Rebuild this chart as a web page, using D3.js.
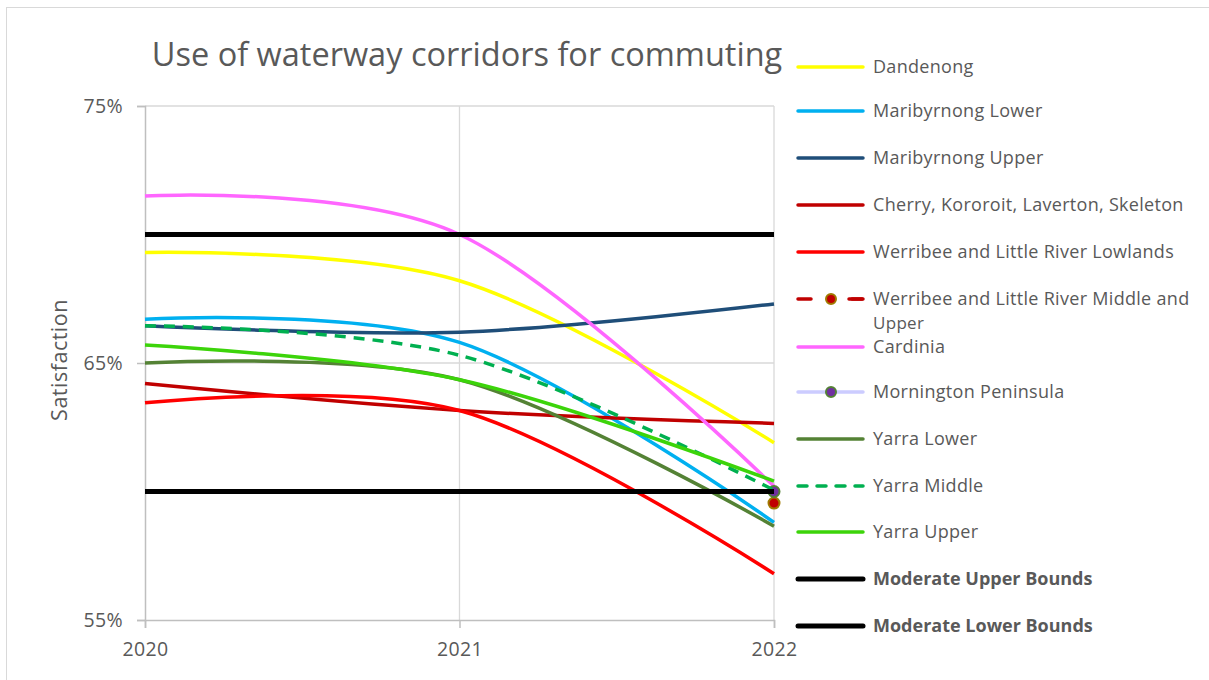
<!DOCTYPE html>
<html>
<head>
<meta charset="utf-8">
<title>Use of waterway corridors for commuting</title>
<script src="https://cdn.jsdelivr.net/npm/d3@7"></script>
<style>
  body { margin: 0; background: #fff; }
  text { font-family: "Open Sans", "Noto Sans", sans-serif; fill: #595959; }
</style>
</head>
<body>
<svg id="chart" width="1209" height="680"></svg>
<script>
// data
var years = [2020, 2021, 2022]
var yTicks = [55, 65, 75]

var names = [
  'Dandenong', 'Maribyrnong Lower', 'Maribyrnong Upper',
  'Cherry, Kororoit, Laverton, Skeleton', 'Werribee and Little River Lowlands',
  'Werribee and Little River Middle and Upper', 'Cardinia', 'Mornington Peninsula',
  'Yarra Lower', 'Yarra Middle', 'Yarra Upper',
  'Moderate Upper Bounds', 'Moderate Lower Bounds'
]
var dandenong    = [69.3, 68.2, 61.9]
var maribLower   = [66.7, 65.8, 58.8]
var maribUpper   = [66.45, 66.2, 67.3]
var cherry       = [64.2, 63.15, 62.65]
var werribeeLow  = [63.45, 63.15, 56.8]
var werribeeMid  = [null, null, 59.55]
var cardinia     = [71.5, 70.0, 60.2]
var mornington   = [null, null, 60.0]
var yarraLower   = [65.0, 64.35, 58.65]
var yarraMiddle  = [66.45, 65.3, 60.05]
var yarraUpper   = [65.7, 64.35, 60.4]
var upperBound   = [70, 70, 70]
var lowerBound   = [60, 60, 60]

var values = [dandenong, maribLower, maribUpper, cherry, werribeeLow, werribeeMid,
  cardinia, mornington, yarraLower, yarraMiddle, yarraUpper, upperBound, lowerBound]
var colors = ['#FFFF00', '#00B0F0', '#1F4E79', '#C00000', '#FF0000', '#C00000',
  '#FF66FF', '#CCCCFF', '#548235', '#00B050', '#3CD40A', '#000000', '#000000']

var series = names.map(function (n, i) {
  return { name: n, values: values[i], color: colors[i],
    dash: (i == 5 || i == 9) ? '11,8' : null,
    width: i >= 11 ? 5 : 3.5,
    bold: i >= 11,
    marker: i == 5 ? { fill: '#C00000', stroke: '#A07A00' } : i == 7 ? { fill: '#7030A0', stroke: '#548235' } : null }
})

var svg = d3.select('#chart')

svg.append('rect')
  .attr('x', 6.5).attr('y', 7.5).attr('width', 1230).attr('height', 700)
  .attr('fill', 'none').attr('stroke', '#D9D9D9')

var x = d3.scaleLinear().domain([2020, 2022]).range([145, 774])
var y = d3.scaleLinear().domain([55, 75]).range([620, 106])

// gridlines
svg.append('g').selectAll('line').data(yTicks.slice(1)).enter().append('line')
  .attr('x1', x(2020)).attr('x2', x(2022))
  .attr('y1', function (d) { return y(d) }).attr('y2', function (d) { return y(d) })
  .attr('stroke', '#D9D9D9').attr('stroke-width', 1.3)
svg.append('g').selectAll('line').data(years.slice(1)).enter().append('line')
  .attr('x1', function (d) { return x(d) }).attr('x2', function (d) { return x(d) })
  .attr('y1', y(55)).attr('y2', y(75))
  .attr('stroke', '#D9D9D9').attr('stroke-width', 1.3)

// axes
var yAxis = svg.append('g').attr('transform', 'translate(' + x(2020) + ',0)')
  .call(d3.axisLeft(y).tickValues(yTicks).tickSize(8).tickPadding(14).tickFormat(function (d) { return d + '%' }))
var xAxis = svg.append('g').attr('transform', 'translate(0,' + y(55) + ')')
  .call(d3.axisBottom(x).tickValues(years).tickSize(8).tickPadding(14).tickFormat(d3.format('d')))
;[yAxis, xAxis].forEach(function (a) {
  a.select('.domain').attr('stroke', '#BFBFBF').attr('stroke-width', 1.5)
  a.selectAll('.tick line').attr('stroke', '#BFBFBF').attr('stroke-width', 1.5)
  a.selectAll('.tick text').style('font-size', '19.5px').style('letter-spacing', '0.4px').attr('fill', '#595959')
})

// lines
var line = d3.line()
  .defined(function (d) { return d != null })
  .x(function (d, i) { return x(years[i]) })
  .y(function (d) { return y(d) })
  .curve(d3.curveCardinal.tension(0))

var lines = svg.append('g')
series.forEach(function (s) {
  lines.append('path')
    .attr('d', line(s.values))
    .attr('fill', 'none')
    .attr('stroke', s.color)
    .attr('stroke-width', s.width)
    .attr('stroke-dasharray', s.dash)
  if (s.marker) {
    s.values.forEach(function (v, i) {
      if (v == null) return
      lines.append('circle')
        .attr('cx', x(years[i])).attr('cy', y(v)).attr('r', 5.5)
        .attr('fill', s.marker.fill).attr('stroke', s.marker.stroke).attr('stroke-width', 2)
    })
  }
})

// title + axis label
svg.append('text').attr('x', 467).attr('y', 66).attr('text-anchor', 'middle')
  .style('font-size', '32.5px').text('Use of waterway corridors for commuting')
svg.append('text').attr('transform', 'translate(67,360) rotate(-90)').attr('text-anchor', 'middle')
  .style('font-size', '21.5px').style('letter-spacing', '0.5px').text('Satisfaction')

// legend
var rowY = [67, 111, 158, 205, 252, 299, 347, 392, 439, 486, 532, 579, 626]
var leg = svg.append('g')
series.forEach(function (s, i) {
  var g = leg.append('g').attr('transform', 'translate(0,' + rowY[i] + ')')
  g.append('line').attr('x1', 798).attr('x2', 863).attr('y1', 0).attr('y2', 0)
    .attr('stroke', s.color).attr('stroke-width', s.width)
    .attr('stroke-linecap', 'round')
    .attr('stroke-dasharray', s.dash ? (i == 5 ? '13,38' : '9,10') : null)
  if (i == 5) {
    g.append('line').attr('x1', 852).attr('x2', 863).attr('y1', 0).attr('y2', 0)
      .attr('stroke', s.color).attr('stroke-width', s.width).attr('stroke-linecap', 'round')
  }
  if (s.marker) {
    g.append('circle').attr('cx', 831).attr('cy', 0).attr('r', 5)
      .attr('fill', s.marker.fill).attr('stroke', s.marker.stroke).attr('stroke-width', 2)
  }
  var t = g.append('text').attr('x', 873).attr('y', 6).style('font-size', '18px')
    .style('letter-spacing', s.bold ? '0px' : '0.3px')
    .style('font-weight', s.bold ? 'bold' : null)
  if (i == 5) {
    t.text('Werribee and Little River Middle and')
    g.append('text').attr('x', 873).attr('y', 30).style('font-size', '17px')
      .style('letter-spacing', '0.3px').text('Upper')
  } else {
    t.text(s.name)
  }
})
</script>
</body>
</html>
